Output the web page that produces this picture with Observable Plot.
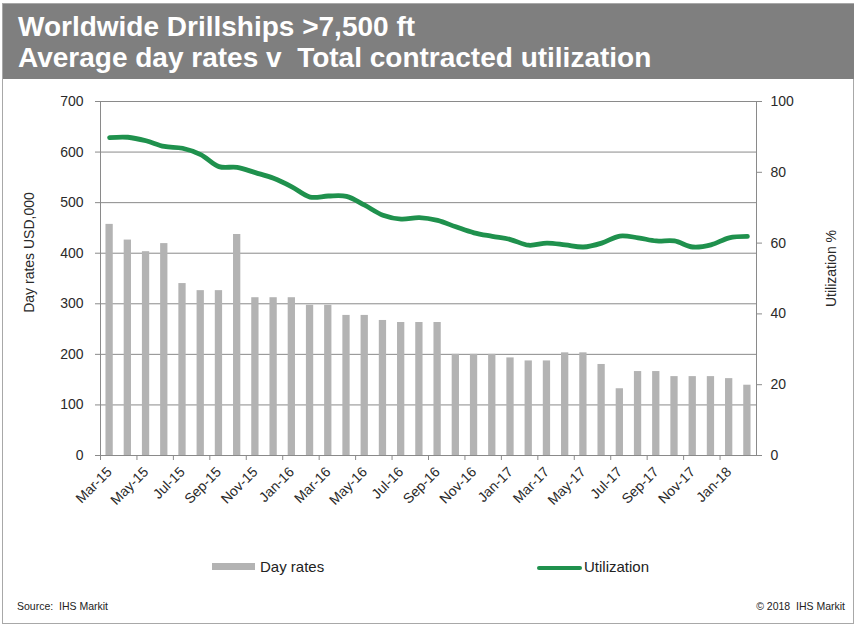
<!DOCTYPE html>
<html>
<head>
<meta charset="utf-8">
<script src="https://cdn.jsdelivr.net/npm/d3@7"></script>
<script src="https://cdn.jsdelivr.net/npm/@observablehq/plot@0.6"></script>
<style>
  html, body { margin: 0; padding: 0; background: #fff; }
  #wrap { position: relative; width: 858px; height: 628px; background: #fff; font-family: "Liberation Sans", Arial, sans-serif; overflow: hidden; }
  #border { position: absolute; left: 2px; top: 3px; width: 852px; height: 621px; border: 1px solid #a8a8a8; box-sizing: border-box; }
  #title { position: absolute; left: 3px; top: 4px; width: 851px; height: 75px; background: #7f7f7f; color: #fff; font-weight: bold; font-size: 28px; }
  #title div { position: absolute; left: 15px; white-space: nowrap; line-height: 31px; }
  #chart { position: absolute; left: 0; top: 80px; }
  .leg { position: absolute; font-size: 15px; color: #222; white-space: nowrap; line-height: 18px; }
  .sw { position: absolute; }
  .foot { position: absolute; font-size: 10.5px; color: #222; white-space: nowrap; line-height: 13px; }
</style>
</head>
<body>
<div id="wrap">
  <div id="border"></div>
  <div id="title">
    <div style="top:7px">Worldwide Drillships &gt;7,500 ft</div>
    <div style="top:38px">Average day rates v&nbsp; Total contracted utilization</div>
  </div>
  <div id="chart"></div>
  <div class="sw" style="left:212px;top:563px;width:43px;height:7px;background:#b3b3b3"></div>
  <div class="leg" style="left:260px;top:558px">Day rates</div>
  <div class="sw" style="left:537px;top:566px;width:45px;height:4px;background:#1f914d;border-radius:2px"></div>
  <div class="leg" style="left:584px;top:558px">Utilization</div>
  <div class="foot" style="left:17px;top:600px">Source:&nbsp; IHS Markit</div>
  <div class="foot" style="right:13px;top:600px">© 2018&nbsp; IHS Markit</div>
</div>
<script>
const months = ["Mar-15","Apr-15","May-15","Jun-15","Jul-15","Aug-15","Sep-15","Oct-15","Nov-15","Dec-15",
  "Jan-16","Feb-16","Mar-16","Apr-16","May-16","Jun-16","Jul-16","Aug-16","Sep-16","Oct-16","Nov-16","Dec-16",
  "Jan-17","Feb-17","Mar-17","Apr-17","May-17","Jun-17","Jul-17","Aug-17","Sep-17","Oct-17","Nov-17","Dec-17",
  "Jan-18","Feb-18"];
const dayRates = [457, 426, 403, 419, 340, 326, 326, 437, 312, 312,
  312, 297, 297, 277, 277, 267, 263, 263, 263, 200, 200, 200,
  193, 187, 187, 203, 203, 180, 132, 166, 166, 156, 156, 156,
  152, 139];
const utilization = [89.8, 89.9, 88.9, 87.3, 86.8, 85.0, 81.6, 81.4, 79.9, 78.3,
  75.9, 73.0, 73.3, 73.2, 70.7, 67.9, 66.8, 67.2, 66.4, 64.6, 62.9, 61.9,
  61.0, 59.4, 60.0, 59.5, 58.9, 60.0, 62.0, 61.5, 60.6, 60.6, 58.9, 59.5,
  61.5, 61.9];
const leftTicks = [0, 100, 200, 300, 400, 500, 600, 700];
const rightTicks = [0, 20, 40, 60, 80, 100];
const labelMonths = months.filter((d, i) => i % 2 === 0);
const leftTitle = "Day rates USD,000";
const rightTitle = "Utilization %";

const data = months.map((m, i) => ({month: m, rate: dayRates[i], util: utilization[i]}));
const k = leftTicks[leftTicks.length - 1] / rightTicks[rightTicks.length - 1];
const W = 858, ML = 100, MR = 102;
const step = (W - ML - MR) / months.length;
const grid = "#8a8a8a";

const chart = Plot.plot({
  width: W, height: 450,
  marginLeft: ML, marginRight: MR, marginTop: 21, marginBottom: 75,
  style: {fontFamily: "'Liberation Sans', Arial, sans-serif", fontSize: "14px", color: "#2a2a2a", background: "transparent", overflow: "visible"},
  x: {type: "band", domain: months, paddingInner: 0.6, paddingOuter: 0.3, round: false, axis: null},
  y: {domain: [0, 700], axis: null},
  marks: [
    Plot.ruleY(leftTicks.slice(1), {stroke: grid, strokeWidth: 1}),
    Plot.barY(data, {x: "month", y: "rate", fill: "#b3b3b3"}),
    Plot.frame({stroke: grid}),
    Plot.line(data, {x: "month", y: d => d.util * k, stroke: "#1f914d", strokeWidth: 4.8, curve: "catmull-rom"}),
    Plot.axisY({ticks: leftTicks, tickSize: 5, tickPadding: 12, label: null, stroke: grid}),
    Plot.axisY({anchor: "right", ticks: rightTicks.map(v => v * k), tickFormat: d => String(Math.round(d / k)), tickSize: 5, tickPadding: 9, label: null, stroke: grid}),
    Plot.axisX({ticks: labelMonths, tickSize: 5, tickFormat: () => "", dx: -step / 2, label: null, stroke: grid}),
    Plot.axisX({ticks: labelMonths, tickSize: 0, tickRotate: -45, tickPadding: 14, label: null}),
    Plot.text([leftTitle], {text: d => d, frameAnchor: "left", textAnchor: "middle", dx: -71, dy: -26, rotate: -90, fontSize: 14, fill: "#2a2a2a"}),
    Plot.text([rightTitle], {text: d => d, frameAnchor: "right", textAnchor: "middle", dx: 75, dy: -10, rotate: -90, fontSize: 14, fill: "#2a2a2a"})
  ]
});
document.getElementById("chart").appendChild(chart);
</script>
</body>
</html>
